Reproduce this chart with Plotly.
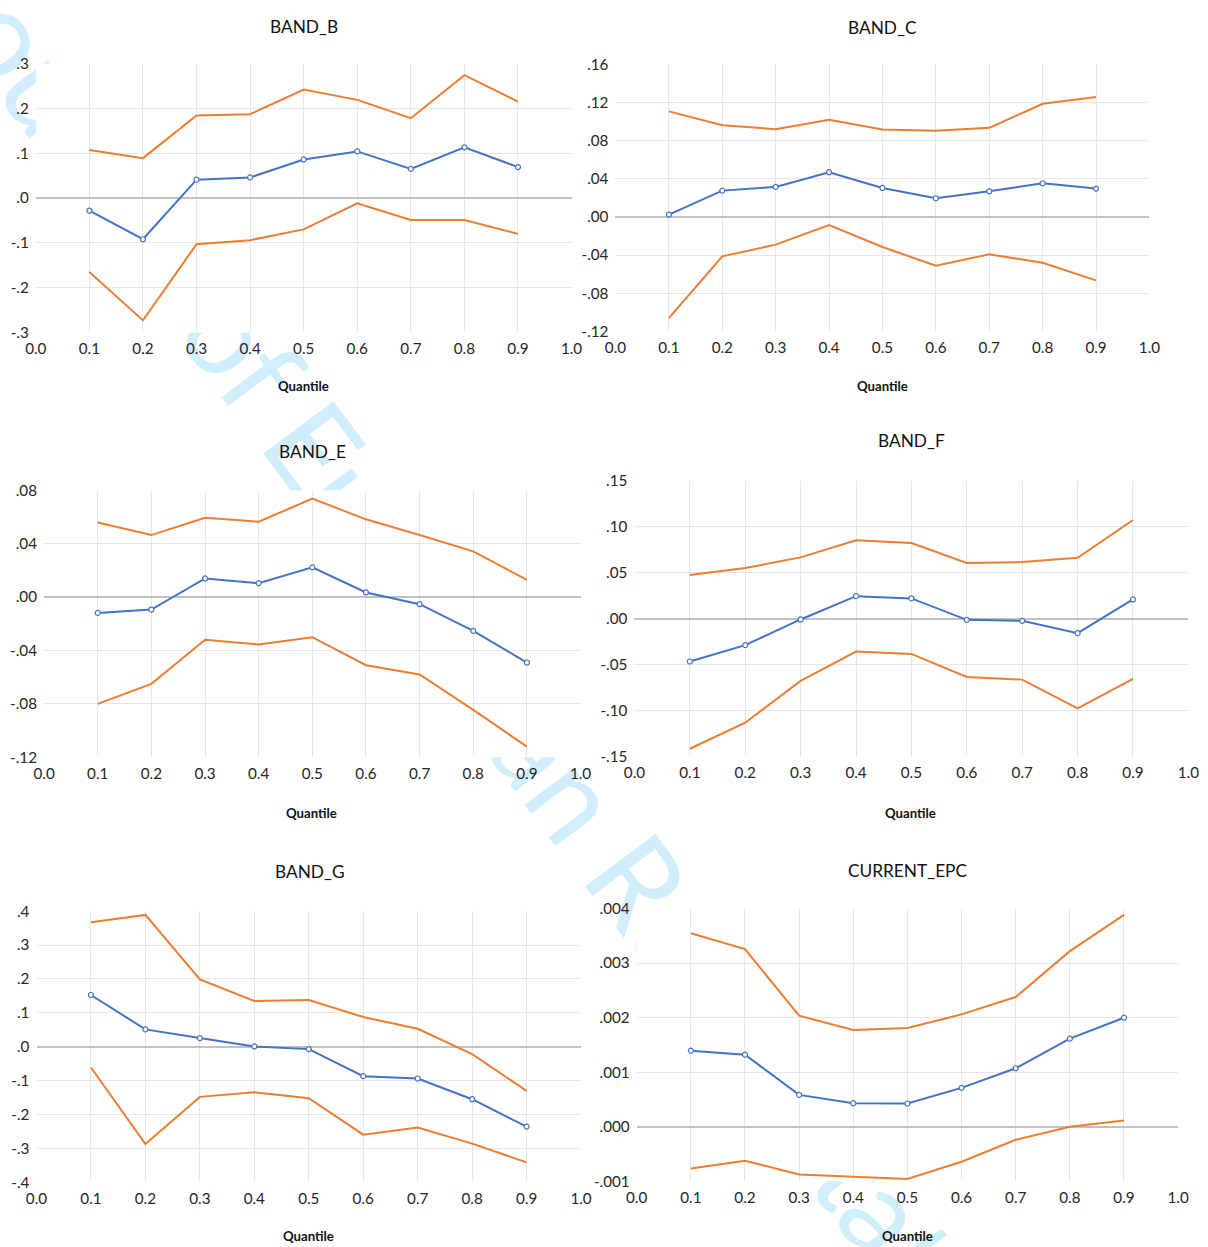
import plotly.graph_objects as go

quantiles = [0.1, 0.2, 0.3, 0.4, 0.5, 0.6, 0.7, 0.8, 0.9]
x_tick_vals = [0.0, 0.1, 0.2, 0.3, 0.4, 0.5, 0.6, 0.7, 0.8, 0.9, 1.0]
x_tick_text = ["0.0", "0.1", "0.2", "0.3", "0.4", "0.5", "0.6", "0.7", "0.8", "0.9", "1.0"]

band_b_est = [-0.028, -0.092, 0.041, 0.046, 0.086, 0.104, 0.065, 0.113, 0.069]
band_b_upper = [0.107, 0.089, 0.184, 0.187, 0.242, 0.219, 0.178, 0.274, 0.215]
band_b_lower = [-0.165, -0.273, -0.103, -0.094, -0.070, -0.012, -0.049, -0.049, -0.080]
band_b_ticks = [0.3, 0.2, 0.1, 0.0, -0.1, -0.2, -0.3]
band_b_ticktext = [".3", ".2", ".1", ".0", "-.1", "-.2", "-.3"]

band_c_est = [0.0025, 0.0276, 0.0315, 0.0469, 0.0304, 0.0196, 0.0269, 0.0353, 0.0297]
band_c_upper = [0.1106, 0.0962, 0.0920, 0.1018, 0.0917, 0.0903, 0.0934, 0.1186, 0.1256]
band_c_lower = [-0.1060, -0.0413, -0.0290, -0.0084, -0.0315, -0.0511, -0.0392, -0.0480, -0.0665]
band_c_ticks = [0.16, 0.12, 0.08, 0.04, 0.0, -0.04, -0.08, -0.12]
band_c_ticktext = [".16", ".12", ".08", ".04", ".00", "-.04", "-.08", "-.12"]

band_e_est = [-0.0118, -0.0093, 0.0140, 0.0105, 0.0223, 0.0035, -0.0053, -0.0253, -0.0490]
band_e_upper = [0.0560, 0.0465, 0.0595, 0.0565, 0.0738, 0.0583, 0.0465, 0.0343, 0.0130]
band_e_lower = [-0.0800, -0.0650, -0.0320, -0.0355, -0.0300, -0.0510, -0.0580, -0.0845, -0.1120]
band_e_ticks = [0.08, 0.04, 0.0, -0.04, -0.08, -0.12]
band_e_ticktext = [".08", ".04", ".00", "-.04", "-.08", "-.12"]

band_f_est = [-0.0465, -0.0287, -0.0007, 0.0247, 0.0222, -0.0011, -0.0022, -0.0156, 0.0211]
band_f_upper = [0.0476, 0.0553, 0.0669, 0.0855, 0.0825, 0.0607, 0.0618, 0.0665, 0.1076]
band_f_lower = [-0.1415, -0.1131, -0.0676, -0.0356, -0.0382, -0.0633, -0.0662, -0.0975, -0.0655]
band_f_ticks = [0.15, 0.10, 0.05, 0.0, -0.05, -0.10, -0.15]
band_f_ticktext = [".15", ".10", ".05", ".00", "-.05", "-.10", "-.15"]

band_g_est = [0.1527, 0.0512, 0.0256, 0.0010, -0.0069, -0.0867, -0.0936, -0.1547, -0.2355]
band_g_upper = [0.3675, 0.3890, 0.1990, 0.1350, 0.1380, 0.0877, 0.0532, -0.0217, -0.1300]
band_g_lower = [-0.0611, -0.2867, -0.1478, -0.1340, -0.1517, -0.2591, -0.2384, -0.2857, -0.3409]
band_g_ticks = [0.4, 0.3, 0.2, 0.1, 0.0, -0.1, -0.2, -0.3, -0.4]
band_g_ticktext = [".4", ".3", ".2", ".1", ".0", "-.1", "-.2", "-.3", "-.4"]

epc_est = [0.001396, 0.001323, 0.000585, 0.000433, 0.000427, 0.000713, 0.001073, 0.001616, 0.002000]
epc_upper = [0.003549, 0.003256, 0.002037, 0.001774, 0.001811, 0.002061, 0.002378, 0.003220, 0.003884]
epc_lower = [-0.000762, -0.000622, -0.000872, -0.000909, -0.000957, -0.000640, -0.000238, 0.000000, 0.000116]
epc_ticks = [0.004, 0.003, 0.002, 0.001, 0.0, -0.001]
epc_ticktext = [".004", ".003", ".002", ".001", ".000", "-.001"]

panel_titles = ["BAND_B", "BAND_C", "BAND_E", "BAND_F", "BAND_G", "CURRENT_EPC"]
x_title = "Quantile"
watermark_text = "Journal of European Real Estate Research"

W, H = 1208, 1247
SC = 0.9837      # page-to-picture scale observed in the photographed output
OFF = 10.0       # page padding observed in the photographed output


def T(v):
    """map a position measured on the reference picture to page pixels"""
    return v / SC - OFF


def F(s):
    return s / SC


panels = [
    dict(est=band_b_est, up=band_b_upper, lo=band_b_lower, ticks=band_b_ticks, tt=band_b_ticktext,
         px=(34.7, 571.5), py=(63.3, 331.7), title=(303, 26), xt=(303, 385)),
    dict(est=band_c_est, up=band_c_upper, lo=band_c_lower, ticks=band_c_ticks, tt=band_c_ticktext,
         px=(615.5, 1150.5), py=(64.0, 330.7), title=(883, 27), xt=(883, 385)),
    dict(est=band_e_est, up=band_e_upper, lo=band_e_lower, ticks=band_e_ticks, tt=band_e_ticktext,
         px=(43.0, 580.5), py=(489.3, 755.7), title=(312, 451), xt=(311, 811)),
    dict(est=band_f_est, up=band_f_upper, lo=band_f_lower, ticks=band_f_ticks, tt=band_f_ticktext,
         px=(634.5, 1189.5), py=(480.0, 755.0), title=(912, 440), xt=(911, 811)),
    dict(est=band_g_est, up=band_g_upper, lo=band_g_lower, ticks=band_g_ticks, tt=band_g_ticktext,
         px=(35.4, 581.0), py=(909.3, 1180.0), title=(309, 870), xt=(308, 1234)),
    dict(est=epc_est, up=epc_upper, lo=epc_lower, ticks=epc_ticks, tt=epc_ticktext,
         px=(636.75, 1179.25), py=(906.7, 1179.0), title=(908, 869), xt=(908, 1234)),
]

ORANGE = "#ED7D31"
BLUE = "#4472C4"
FONT = "Lato"
TICKCOL = "#262626"

fig = go.Figure()
annotations = []
shapes = []

# watermark (drawn below plot areas)
cx, cy = T(620), T(849)
ux, uy = 0.598, 0.801
shapes.append(dict(
    type="line", xref="paper", yref="paper",
    x0=(cx - 400 * ux) / W, y0=1 - (cy - 400 * uy) / H,
    x1=(cx + 400 * ux) / W, y1=1 - (cy + 400 * uy) / H,
    line=dict(color="rgba(0,0,0,0)", width=1), layer="below",
    label=dict(text=watermark_text, textposition="middle", yanchor="middle",
               font=dict(family=FONT, size=F(120), color="rgb(208,238,252)")),
))

for i, p in enumerate(panels):
    k = "" if i == 0 else str(i + 1)
    xa, ya = "x" + k, "y" + k
    for vals, col, is_est in [(p["up"], ORANGE, False), (p["lo"], ORANGE, False), (p["est"], BLUE, True)]:
        tr = dict(x=quantiles, y=vals, xaxis=xa, yaxis=ya, showlegend=False, hoverinfo="x+y",
                  line=dict(color=col, width=2))
        if is_est:
            tr.update(mode="lines+markers",
                      marker=dict(symbol="circle", size=5, color="white", line=dict(color=col, width=1.2)))
        else:
            tr.update(mode="lines")
        fig.add_trace(go.Scatter(**tr))

    ymin, ymax = min(p["ticks"]), max(p["ticks"])
    fig.update_layout(**{
        "xaxis" + k: dict(domain=[T(p["px"][0]) / W, T(p["px"][1]) / W], range=[0, 1], anchor=ya,
                          tickmode="array", tickvals=x_tick_vals, ticktext=x_tick_text,
                          showgrid=True, gridcolor="#e6e6e6", gridwidth=1, zeroline=False,
                          showline=False, ticks="outside", ticklen=2, tickcolor="rgba(0,0,0,0)",
                          tickfont=dict(family=FONT, size=F(15), color=TICKCOL), fixedrange=True),
        "yaxis" + k: dict(domain=[1 - T(p["py"][1]) / H, 1 - T(p["py"][0]) / H], range=[ymin, ymax], anchor=xa,
                          tickmode="array", tickvals=p["ticks"], ticktext=p["tt"],
                          showgrid=True, gridcolor="#e6e6e6", gridwidth=1,
                          zeroline=True, zerolinecolor="#c2c2c2", zerolinewidth=1.5,
                          showline=False, ticks="outside", ticklen=3, tickcolor="rgba(0,0,0,0)",
                          tickfont=dict(family=FONT, size=F(15), color=TICKCOL), fixedrange=True),
    })
    # opaque plot area (hides watermark like the original)
    shapes.append(dict(type="rect", xref=xa + " domain", yref=ya + " domain", x0=0, x1=1, y0=0, y1=1,
                       fillcolor="white", line=dict(width=0), layer="below"))
    annotations.append(dict(text=panel_titles[i], x=T(p["title"][0]) / W, y=1 - T(p["title"][1]) / H,
                            xref="paper", yref="paper", showarrow=False, xanchor="center", yanchor="middle",
                            font=dict(family=FONT, size=F(17), color="#111111")))
    annotations.append(dict(text="<b>" + x_title + "</b>", x=T(p["xt"][0]) / W, y=1 - T(p["xt"][1]) / H,
                            xref="paper", yref="paper", showarrow=False, xanchor="center", yanchor="middle",
                            font=dict(family=FONT, size=F(13), color="#111111")))

fig.update_layout(width=W, height=H, margin=dict(l=0, r=0, t=0, b=0),
                  paper_bgcolor="white", plot_bgcolor="white",
                  annotations=annotations, shapes=shapes, showlegend=False)

fig.write_html("out.html", config={"displayModeBar": False},
               post_script="document.body.style.margin='0px';document.body.style.padding='0px';"
                           "document.documentElement.style.overflow='hidden';")
